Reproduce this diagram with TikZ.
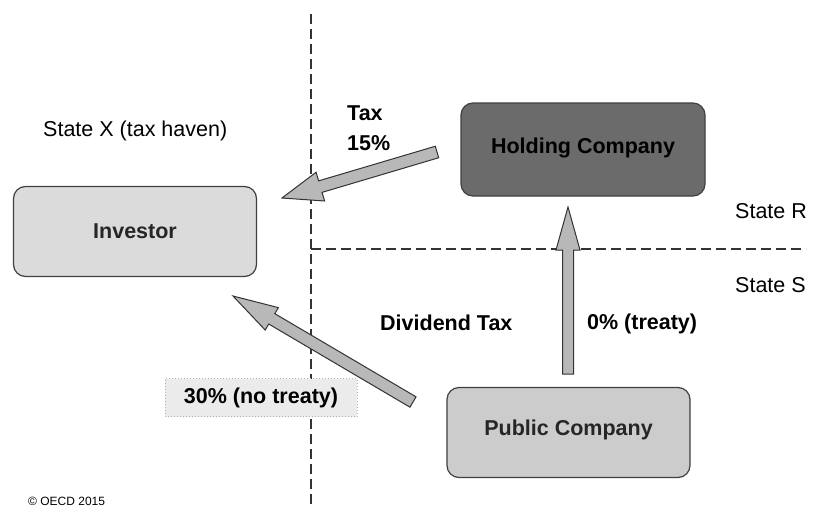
\documentclass[tikz,border=0pt]{standalone}
\usepackage{fontspec}
\setmainfont{Liberation Sans}
\usetikzlibrary{calc}
\definecolor{invfill}{gray}{0.86}
\definecolor{holdfill}{gray}{0.42}
\definecolor{pubfill}{gray}{0.80}
\definecolor{arrfill}{gray}{0.72}
\definecolor{notefill}{gray}{0.92}
\tikzset{
  bigfont/.style={font=\fontsize{21.5}{25}\selectfont},
  boldfont/.style={font=\fontsize{21.5}{25}\selectfont\bfseries},
  box/.style={draw=black!75, line width=1.2pt, rounded corners=12pt,
    minimum width=243pt, minimum height=90pt, inner sep=0pt,
    font=\fontsize{21.5}{25}\selectfont\bfseries, text=black!85},
  divider/.style={draw=black!80, line width=1.3pt, dash pattern=on 10pt off 5pt},
  blockarr/.style={fill=arrfill, draw=black!80, line width=1pt, line join=miter},
  notebox/.style={draw=gray!60, dotted, line width=1pt, fill=notefill,
    minimum width=192pt, minimum height=38pt, inner sep=0pt,
    font=\fontsize{21.5}{25}\selectfont\bfseries}
}
% #1 tail, #2 tip, #3 shaft half width, #4 head half width, #5 head length, #6 name
\newcommand{\blockarrow}[6]{%
  \coordinate (#6b) at ($(#2)!#5!(#1)$);
  \filldraw[blockarr] ($(#1)!#3!90:(#2)$) -- ($(#6b)!#3!90:(#2)$)
    -- ($(#6b)!#4!90:(#2)$) -- (#2) -- ($(#6b)!#4!-90:(#2)$)
    -- ($(#6b)!#3!-90:(#2)$) -- ($(#1)!#3!-90:(#2)$) -- cycle;
}
\begin{document}
\begin{tikzpicture}[x=1pt,y=-1pt]
\useasboundingbox (0,0) rectangle (813,514);
\fill[white] (0,0) rectangle (813,514);

% state borders
\coordinate (vtop) at (311,14);
\coordinate (vbot) at (311,505);
\coordinate (corner) at (311,249);
\coordinate (hend) at (806,249);
\draw[divider] (vtop) -- (vbot);
\draw[divider] (corner) -- (hend);

% boxes
\node[box, fill=invfill] (inv) at (135,231.5) {Investor};
\node[box, fill=holdfill, text=black, minimum width=244pt, minimum height=93pt] (hold) at (583,149.5) {\raisebox{7pt}{Holding Company}};
\node[box, fill=pubfill] (pub) at (568.5,432.5) {\raisebox{10pt}{Public Company}};
\node[notebox] (nt) at (261,397.5) {30\% (no treaty)};

% labels
\node[bigfont, anchor=base west, inner sep=0pt] (sx) at (43,136) {State X (tax haven)};
\node[bigfont, anchor=base west, inner sep=0pt] (sr) at (735,218) {State R};
\node[bigfont, anchor=base west, inner sep=0pt] (ss) at (735,292) {State S};
\node[boldfont, anchor=base west, inner sep=0pt] (tax) at (347,120) {Tax};
\node[boldfont, anchor=base west, inner sep=0pt] (fifteen) at (347,150) {15\%};
\node[boldfont, anchor=base west, inner sep=0pt] (div) at (380,330) {Dividend Tax};
\node[boldfont, anchor=base west, inner sep=0pt] (zero) at (587,329) {0\% (treaty)};
\node[font=\fontsize{12}{14}\selectfont, anchor=base west, inner sep=0pt] (copy) at (28,505) {© OECD 2015};

% arrows
\coordinate (taxT) at (437,152);
\coordinate (taxH) at (282,198);
\blockarrow{taxT}{taxH}{6pt}{15pt}{40pt}{taxarr}
\coordinate (upT) at (568,374);
\coordinate (upH) at (568,207);
\blockarrow{upT}{upH}{5.5pt}{12pt}{43pt}{uparr}
\coordinate (dgT) at (413,402);
\coordinate (dgH) at (233,296);
\blockarrow{dgT}{dgH}{6pt}{13pt}{45pt}{dgarr}
\end{tikzpicture}
\end{document}
